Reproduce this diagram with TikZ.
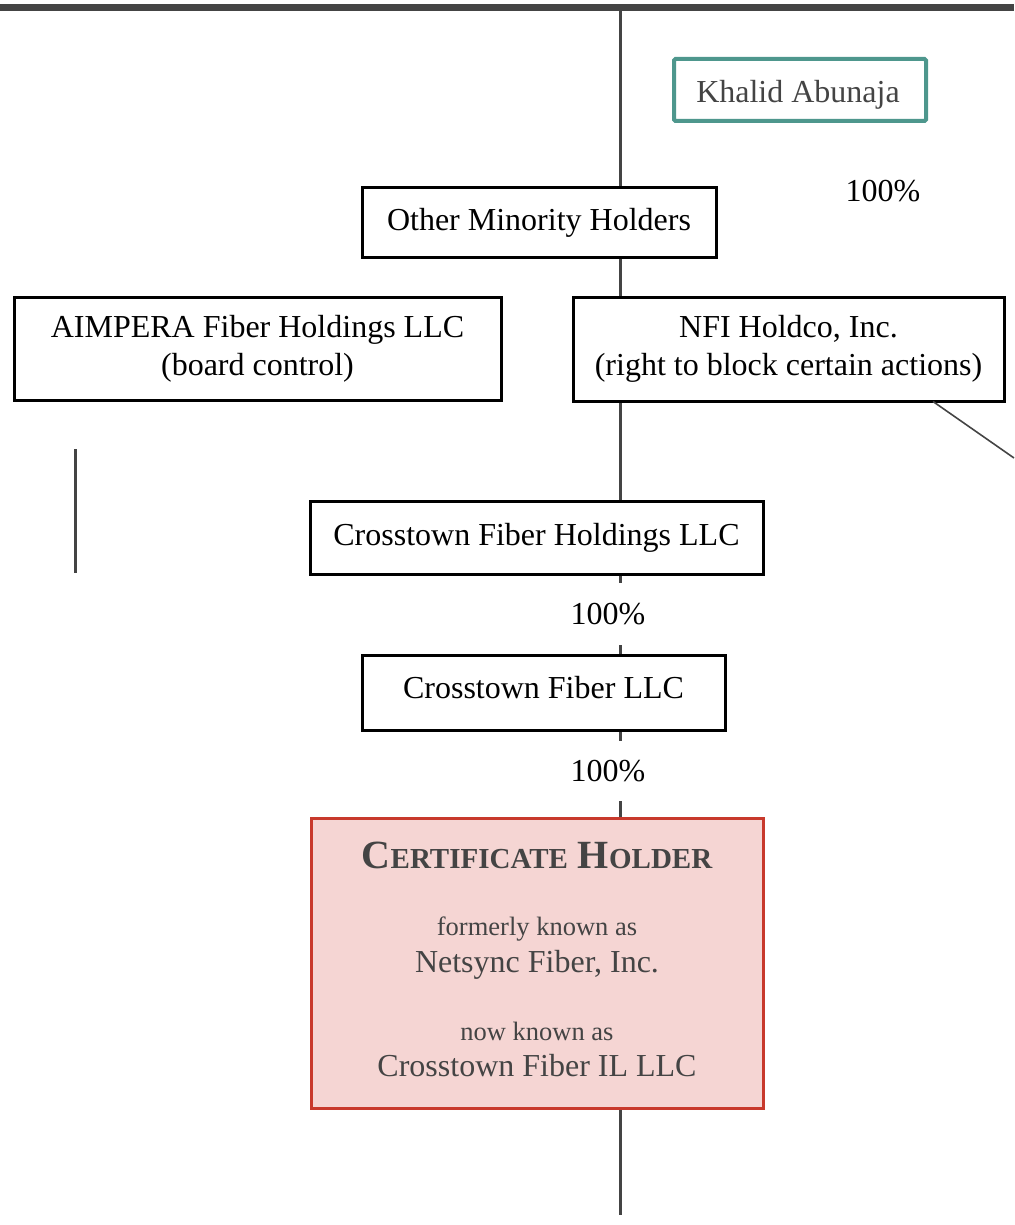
\documentclass[tikz,border=0pt]{standalone}
\usepackage{fontspec}
\setmainfont{Liberation Serif}
\definecolor{dk}{HTML}{444444}
\definecolor{teal2}{HTML}{4E978D}
\definecolor{redb}{HTML}{C8392C}
\definecolor{pinkf}{HTML}{F5D5D3}
\tikzset{
  ent/.style={draw=black, line width=3pt, fill=white, align=center, inner sep=0pt, font=\fontsize{32}{38}\selectfont},
  pct/.style={fill=white, inner sep=2pt, font=\fontsize{32}{35}\selectfont},
  conn/.style={draw=dk, line width=3pt},
  lbl/.style={inner sep=0pt, font=\fontsize{32}{38}\selectfont},
}
\begin{document}
\begin{tikzpicture}[x=1pt,y=-1pt]
\useasboundingbox (0,0) rectangle (1014,1225);
% top bar
\coordinate (barL) at (0,7.5);
\coordinate (barR) at (1014,7.5);
\draw[dk, line width=7pt] (barL) -- (barR);
% spine
\coordinate (spT) at (620,11);
\coordinate (spB) at (620,1215);
\draw[conn] (spT) -- (spB);
% left stub
\coordinate (lsT) at (75,449);
\coordinate (lsB) at (75,573);
\draw[conn] (lsT) -- (lsB);
% boxes
\node[draw=teal2, line width=4pt, rounded corners=1.5pt, fill=white, minimum width=252pt, minimum height=62pt, inner sep=0pt] (khalid) at (800,90) {};
\node[lbl, text=dk] (khalidt) at (798,95) {Khalid Abunaja};
\node[lbl] (p0) at (883,191) {100\%};
\node[ent, minimum width=354pt, minimum height=69pt] (other) at (539,222.5) {Other Minority Holders};
\node[ent, minimum width=487pt, minimum height=103pt] (aim) at (257.5,348.5) {AIMPERA Fiber Holdings LLC\\(board control)};
\node[ent, minimum width=431pt, minimum height=104pt] (nfi) at (788.5,349) {NFI Holdco, Inc.\\(right to block certain actions)};
\coordinate (diagS) at (933,401.5);
\coordinate (diagE) at (1014,458);
\draw[dk, line width=1.6pt] (diagS) -- (diagE);
\node[ent, minimum width=453pt, minimum height=73pt] (cfh) at (536.5,537.5) {Crosstown Fiber Holdings LLC};
\node[pct, minimum height=62pt] (p1) at (608,614) {100\%};
\node[ent, minimum width=363pt, minimum height=75pt] (cf) at (543.5,692.5) {};
\node[lbl] (cft) at (543.5,688) {Crosstown Fiber LLC};
\node[pct, minimum height=60pt] (p2) at (608,771) {100\%};
\node[draw=redb, fill=pinkf, line width=3pt, minimum width=452pt, minimum height=290pt, inner sep=0pt] (cert) at (537,963) {};
\node[text=dk, font=\fontsize{40}{40}\selectfont\bfseries] (t1) at (537,855) {C{\fontsize{29}{29}\selectfont ERTIFICATE} H{\fontsize{29}{29}\selectfont OLDER}};
\node[text=dk, font=\fontsize{26.5}{26.5}\selectfont] (t2) at (537,929) {formerly known as};
\node[text=dk, font=\fontsize{32}{32}\selectfont] (t3) at (537,965) {Netsync Fiber, Inc.};
\node[text=dk, font=\fontsize{26.5}{26.5}\selectfont] (t4) at (537,1031) {now known as};
\node[text=dk, font=\fontsize{32}{32}\selectfont] (t5) at (537,1066) {Crosstown Fiber IL LLC};
\end{tikzpicture}
\end{document}
